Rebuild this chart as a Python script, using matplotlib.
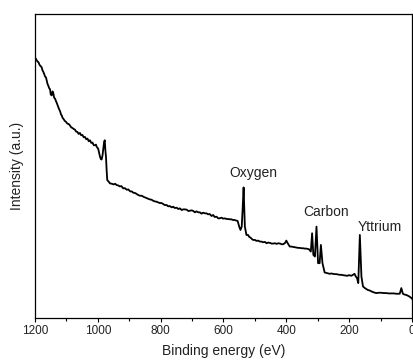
import matplotlib
matplotlib.use("Agg")
import matplotlib.pyplot as plt
from matplotlib.ticker import MultipleLocator

plt.rcParams['font.family'] = ['Liberation Sans', 'DejaVu Sans']

energy = [1200, 1197, 1195, 1192, 1189, 1186, 1184, 1181, 1179, 1176, 1174, 1171, 1168, 1165, 1163,
          1160, 1158, 1155, 1152, 1150, 1147, 1144, 1142, 1139, 1136, 1133, 1131, 1128, 1126, 1123,
          1120, 1117, 1115, 1112, 1110, 1107, 1105, 1101, 1097, 1093, 1089, 1085, 1081, 1077, 1073,
          1069, 1065, 1061, 1057, 1053, 1049, 1045, 1041, 1037, 1033, 1029, 1025, 1021, 1017, 1013,
          1009, 1006, 1004, 1001, 999, 996, 993, 990, 988, 985, 983, 980, 978, 976, 974, 972, 970,
          967, 965, 963, 961, 955, 950, 945, 940, 935, 930, 925, 919, 914, 908, 903, 897, 892, 887,
          881, 876, 871, 866, 860, 855, 850, 845, 840, 835, 829, 824, 819, 813, 808, 803, 797, 792,
          787, 781, 776, 771, 765, 760, 755, 749, 744, 739, 733, 728, 723, 717, 712, 707, 701, 696,
          691, 686, 680, 675, 670, 665, 659, 654, 649, 644, 638, 633, 628, 622, 617, 612, 606, 601,
          596, 590, 585, 580, 575, 570, 565, 559, 555, 550, 546, 542, 539, 536,
          532, 527, 522, 518, 514, 510, 506, 500, 495, 490, 484, 479, 474, 468, 463, 458, 452, 447,
          442, 436, 431, 426, 420, 415, 410, 404, 400, 395, 389,
          384, 378, 373, 368, 362, 357, 352, 347, 342, 337, 332, 328, 322, 318, 314, 309, 304, 299,
          294, 290, 285, 278, 274, 270, 266, 262, 257, 252, 246, 241, 235, 230, 225, 220, 213, 206,
          200, 193, 188, 183, 179, 175, 171, 166, 161, 156, 150, 145, 140, 135, 129, 124, 118, 113,
          105, 98, 90, 82, 74, 66, 58, 50, 44, 39, 34, 29, 25, 21, 17, 13, 9, 6, 3, 0]
intensity = [783, 780, 776, 772, 770, 763, 760, 757, 755, 745, 742, 735, 727, 724, 716,
             704, 700, 692, 688, 673, 670, 682, 678, 663, 660, 652, 648, 640, 635, 628,
             622, 612, 610, 602, 600, 596, 593, 590, 585, 584, 580, 574, 572, 569, 567,
             561, 560, 554, 557, 550, 551, 544, 545, 538, 540, 532, 535, 527, 528, 520,
             520, 522, 516, 512, 510, 497, 485, 478, 477, 490, 505, 530, 535, 505, 485, 445, 415,
             412, 410, 407, 405, 404, 402, 404, 400, 399, 396, 397, 390, 391, 386, 387, 381, 381, 377,
             376, 373, 370, 368, 368, 365, 363, 361, 359, 357, 356, 353, 351, 350, 348, 346, 346, 343,
             340, 340, 336, 337, 333, 335, 331, 332, 328, 330, 325, 327, 327, 326, 322, 323, 324, 322,
             318, 321, 318, 318, 314, 317, 315, 315, 312, 313, 307, 310, 304, 305, 300, 300, 302, 299,
             300, 298, 298, 297, 297, 295, 295, 293, 292, 275, 265, 275, 330, 393,
             275, 250, 250, 244, 242, 238, 235, 235, 232, 233, 230, 230, 228, 229, 225, 227, 226, 224,
             224, 225, 223, 225, 224, 222, 222, 226, 233, 224, 215,
             215, 214, 213, 212, 211, 211, 210, 210, 209, 209, 208, 207, 200, 255, 190, 185, 275, 165,
             165, 220, 165, 137, 136, 135, 134, 133, 134, 133, 132, 132, 131, 130, 130, 129, 128, 127,
             129, 127, 130, 133, 125, 120, 105, 250, 125, 95, 90, 87, 84, 83, 80, 78, 76, 75,
             76, 76, 75, 75, 74, 74, 74, 73, 73, 73, 90, 73, 71, 70, 69, 67, 65, 63, 61, 58]

labels = ["Oxygen", "Carbon", "Yttrium"]
label_energy = [506, 272, 103]
label_intensity = [435, 318, 273]

fig = plt.figure(figsize=(4.14, 3.61), dpi=100)
ax = fig.add_axes([35/414, 43/361, 377/414, 304/361])
ax.plot(energy, intensity, color='black', lw=1.3)
ax.set_xlim(1200, 0)
ax.set_ylim(0, 915)
ax.set_yticks([])
ax.xaxis.set_major_locator(MultipleLocator(200))
ax.xaxis.set_minor_locator(MultipleLocator(100))
ax.tick_params(axis='x', which='major', direction='out', length=3, width=0.8, labelsize=8.5, pad=2,
               labelcolor='#222222')
ax.tick_params(axis='x', which='minor', direction='out', length=2, width=0.8)
for s in ax.spines.values():
    s.set_linewidth(0.9)
for t, e, i in zip(labels, label_energy, label_intensity):
    ax.text(e, i, t, ha='center', va='center', fontsize=10, color='#222222')
ax.set_xlabel("Binding energy (eV)", fontsize=10, labelpad=5, color='#222222')
ax.set_ylabel("Intensity (a.u.)", fontsize=10, labelpad=8, color='#222222')
fig.savefig("out.png", dpi=100)
